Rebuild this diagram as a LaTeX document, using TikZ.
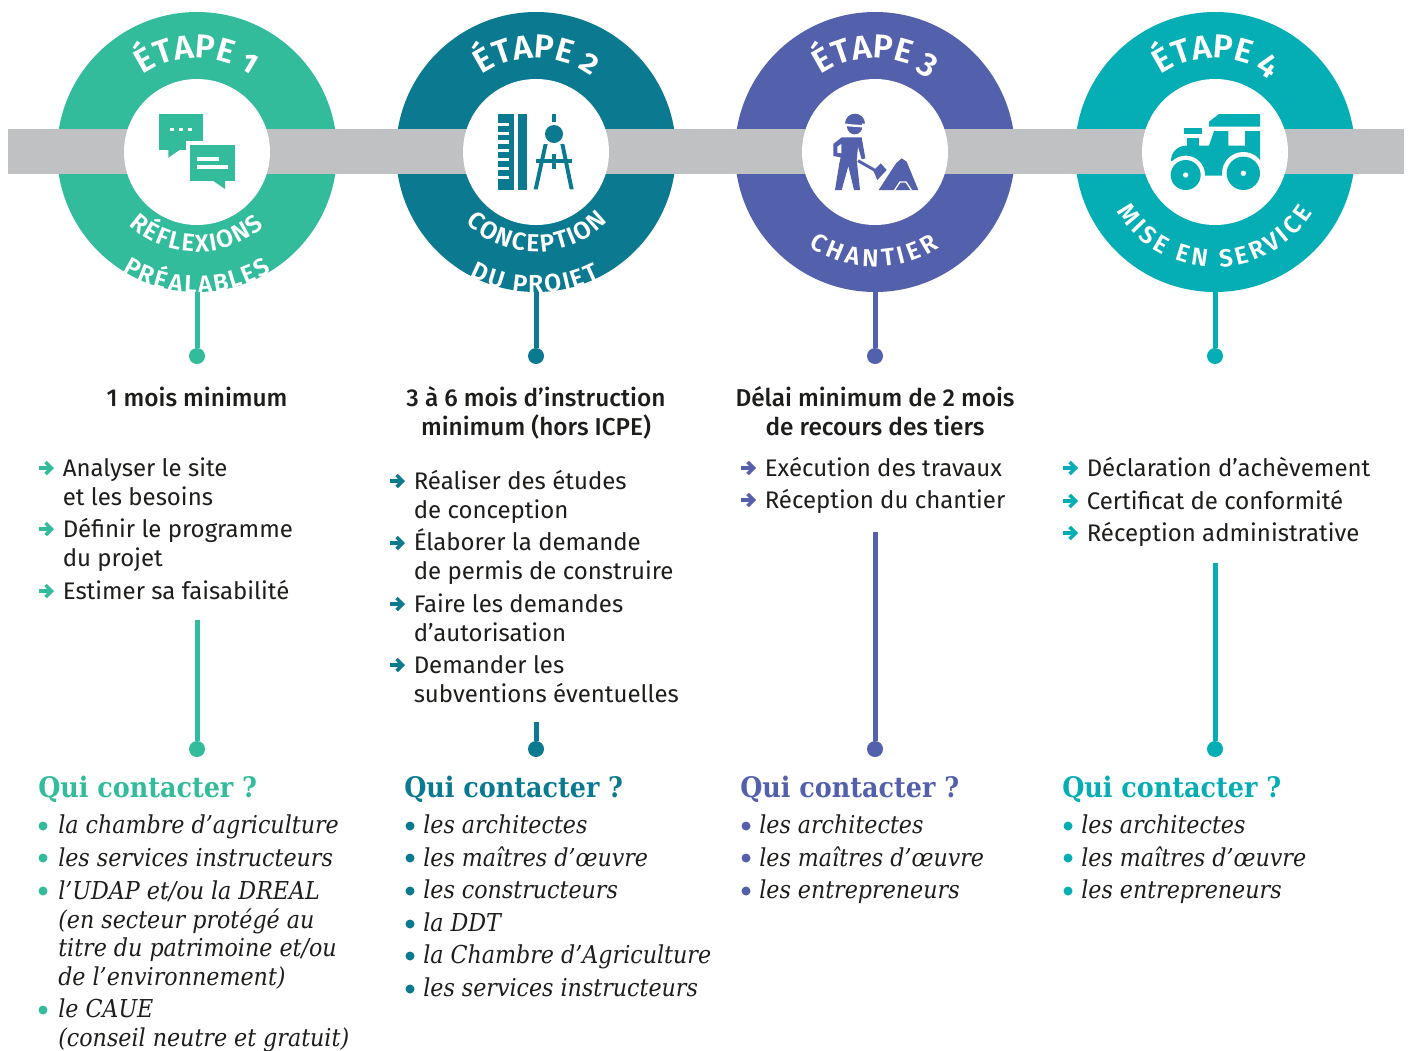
\documentclass[tikz,border=0pt]{standalone}
\usepackage{fontspec}
\setmainfont{Fira Sans}
\newfontfamily\ringfont[Numbers=OldStyle]{Fira Sans SemiBold}
\newfontfamily\delayfont{Fira Sans Medium}
\newfontfamily\contactfont{DejaVu Serif Condensed}
\usetikzlibrary{arrows.meta}
\usetikzlibrary{decorations.text}
\definecolor{stepa}{HTML}{32BC9B}
\definecolor{stepb}{HTML}{0B7A91}
\definecolor{stepc}{HTML}{5360AB}
\definecolor{stepd}{HTML}{05ADB4}
\definecolor{bandgrey}{HTML}{C0C1C3}
\definecolor{inkdark}{HTML}{1D1D1B}
\newcommand{\titlefont}{\ringfont\fontsize{25}{25}\selectfont\color{white}}
\newcommand{\ringlabel}{\ringfont\fontsize{18.5}{20}\selectfont\color{white}}
\tikzset{%
	ring/.style={circle,inner sep=0pt,minimum size=210pt},
	hole/.style={circle,inner sep=0pt,fill=white,minimum size=109.5pt}
}
\tikzset{%
	stem/.style={line width=3.75pt},
	end_dot/.style={circle,inner sep=0pt,minimum size=12pt}
}
\tikzset{%
	delay/.style={anchor=base,align=center,inner sep=0pt,text=inkdark,font=\delayfont\fontsize{18.3}{21.75}\selectfont},
	task/.style={anchor=base west,align=left,inner sep=0pt,text=inkdark,font=\fontsize{18}{21.75}\selectfont},
	list_arrow/.style={line width=2.6pt,-{Straight Barb[length=4.5pt,width=9pt]}},
	who_title/.style={anchor=base west,inner sep=0pt,font=\contactfont\bfseries\fontsize{21.2}{24}\selectfont},
	who/.style={anchor=base west,align=left,inner sep=0pt,text=inkdark,font=\contactfont\itshape\fontsize{18.5}{21.4}\selectfont}
}

\begin{document}
\begin{tikzpicture}[x=0.75pt,y=0.75pt]
		\useasboundingbox (0,0) rectangle (1408,-1050);

		%Rings
		\node [ring,fill=stepa] (c1) at (197,-152) {};
		\node [ring,fill=stepb] (c2) at (536,-152) {};
		\node [ring,fill=stepc] (c3) at (875,-152) {};
		\node [ring,fill=stepd] (c4) at (1215,-152) {};

		%Grey band behind the holes
		\fill [bandgrey] (8,-129) rectangle (1404,-174);
		\node [hole] (h1) at (c1) {};
		\node [hole] (h2) at (c2) {};
		\node [hole] (h3) at (c3) {};
		\node [hole] (h4) at (c4) {};

		%Ring titles
		\path [decorate,decoration={text along path,text align={fit to path},text={|\titlefont|ÉTAPE 1}}] ([shift={(c1)}]125:94) arc (125:55:94);
		\path [decorate,decoration={text along path,text align={fit to path},text={|\titlefont|ÉTAPE 2}}] ([shift={(c2)}]125:94) arc (125:55:94);
		\path [decorate,decoration={text along path,text align={fit to path},text={|\titlefont|ÉTAPE 3}}] ([shift={(c3)}]125:94) arc (125:55:94);
		\path [decorate,decoration={text along path,text align={fit to path},text={|\titlefont|ÉTAPE 4}}] ([shift={(c4)}]125:94) arc (125:55:94);

		%Ring labels
		\path [decorate,decoration={text along path,text align={fit to path},text={|\ringlabel|RÉFLEXIONS}}] ([shift={(c1)}]227:100) arc (227:312:100);
		\path [decorate,decoration={text along path,text align={fit to path},text={|\ringlabel|PRÉALABLES}}] ([shift={(c1)}]238:141) arc (238:302:141);
		\path [decorate,decoration={text along path,text align={fit to path},text={|\ringlabel|CONCEPTION}}] ([shift={(c2)}]225:100) arc (225:316:100);
		\path [decorate,decoration={text along path,text align={fit to path},text={|\ringlabel|DU PROJET}}] ([shift={(c2)}]242:141) arc (242:297:141);
		\path [decorate,decoration={text along path,text align={fit to path},text={|\ringlabel|CHANTIER}}] ([shift={(c3)}]235:115) arc (235:304:115);
		\path [decorate,decoration={text along path,text align={fit to path},text={|\ringlabel|MISE EN SERVICE}}] ([shift={(c4)}]211:115) arc (211:328:115);

		%First icon
		\begin{scope}[shift={(40,0)},x=0.25pt,y=0.25pt,color=stepa]
			\fill (357,-342) rectangle (490,-449);
			\fill (385,-449) -- (385,-473) -- (420,-449) -- cycle;
			\fill [white] (437,-422) rectangle (500,-460);
			\fill (450,-435) rectangle (584,-543);
			\fill (520,-543) -- (555,-567) -- (555,-543) -- cycle;
			\fill [white] (390,-383) rectangle (402,-394);
			\fill [white] (418,-383) rectangle (430,-394);
			\fill [white] (445,-383) rectangle (457,-394);
			\fill [white] (470,-470) rectangle (537,-482);
			\fill [white] (470,-495) rectangle (563,-508);
		\end{scope}

		%Second icon
		\begin{scope}[shift={(380,0)},x=0.25pt,y=0.25pt,color=stepb]
			\fill (355,-342) rectangle (402,-570);
			\fill (415,-342) rectangle (441,-570);
			\fill [white] (355,-368) rectangle (388,-378);
			\fill [white] (355,-395) rectangle (388,-405);
			\fill [white] (355,-421) rectangle (388,-431);
			\fill [white] (355,-447) rectangle (388,-457);
			\fill [white] (355,-474) rectangle (388,-484);
			\fill [white] (355,-500) rectangle (388,-510);
			\fill [white] (355,-527) rectangle (388,-537);
			\fill (516,-342) rectangle (528,-365);
			\fill (522,-402) circle [radius=27];
			\fill (491,-432) -- (503,-432) -- (473,-568) -- (461,-568) -- cycle;
			\fill (541,-432) -- (553,-432) -- (581,-568) -- (569,-568) -- cycle;
			\fill (468,-476) rectangle (576,-489);
			\fill (516,-462) rectangle (528,-508);
		\end{scope}

		%Third icon
		\begin{scope}[shift={(720,0)},x=0.25pt,y=0.25pt,color=stepc]
			\fill (404,-380) circle [radius=23];
			\fill [white] (368,-371) -- (438,-376) -- (438,-383) -- (368,-378) -- cycle;
			\fill (375,-371) arc (180:0:30) -- cycle;
			\fill (365,-412) -- (425,-412) -- (436,-475) -- (425,-478) -- (414,-440) -- (410,-480) -- (420,-570) -- (402,-570) -- (385,-498) -- (365,-570) -- (345,-570) -- (358,-490) -- (362,-472) -- (340,-468) -- (340,-432) -- cycle;
			\fill [white] (352,-440) -- (364,-432) -- (364,-460) -- (352,-458) -- cycle;
			\draw [line width=2.2pt] (414,-482) -- (470,-514);
			\fill (460,-512) -- (482,-490) -- (500,-510) -- (472,-540) -- cycle;
			\fill (476,-570) -- (528,-490) -- (545,-475) -- (560,-485) -- (595,-570) -- cycle;
			\draw [white,line width=1pt] (524,-570) -- (540,-546) -- (558,-546) -- (574,-570);
		\end{scope}

		%Fourth icon
		\begin{scope}[shift={(1060,0)},x=0.25pt,y=0.25pt,color=stepd]
			\fill (447,-380) -- (447,-365) -- (477,-342) -- (600,-342) -- (600,-380) -- cycle;
			\fill (372,-384) rectangle (426,-402);
			\fill (380,-413) rectangle (417,-440);
			\fill (333,-482) arc (180:90:45) -- (447,-437) -- (462,-393) -- (505,-393) -- (505,-437) -- (555,-437) -- (555,-393) -- (600,-393) -- (600,-480) -- (560,-527) -- (420,-527) -- cycle;
			\fill [white] (377,-525) circle [radius=58];
			\fill [white] (550,-520) circle [radius=64];
			\fill (377,-525) circle [radius=45];
			\fill (550,-520) circle [radius=50];
			\fill [white] (377,-525) circle [radius=8];
			\fill [white] (550,-520) circle [radius=8];
		\end{scope}

		%Stems below the rings
		\node [end_dot,fill=stepa] (d1) at (197,-356) {};
		\node [end_dot,fill=stepb] (d2) at (536,-356) {};
		\node [end_dot,fill=stepc] (d3) at (875,-356) {};
		\node [end_dot,fill=stepd] (d4) at (1215,-356) {};
		\draw [stem,stepa] (c1.south) -- (d1);
		\draw [stem,stepb] (c2.south) -- (d2);
		\draw [stem,stepc] (c3.south) -- (d3);
		\draw [stem,stepd] (c4.south) -- (d4);

		%Stems above the contacts
		\coordinate (t1) at (197,-620);
		\coordinate (t2) at (536,-722);
		\coordinate (t3) at (875,-532);
		\coordinate (t4) at (1215,-563);
		\node [end_dot,fill=stepa] (e1) at (197,-749) {};
		\node [end_dot,fill=stepb] (e2) at (536,-749) {};
		\node [end_dot,fill=stepc] (e3) at (875,-749) {};
		\node [end_dot,fill=stepd] (e4) at (1215,-749) {};
		\draw [stem,stepa] (t1) -- (e1);
		\draw [stem,stepb] (t2) -- (e2);
		\draw [stem,stepc] (t3) -- (e3);
		\draw [stem,stepd] (t4) -- (e4);

		%Delays
		\node [delay] (delay1) at (197,-406) {1 mois minimum};
		\node [delay] (delay2) at (536,-435) {3 à 6 mois d’instruction\\minimum (hors ICPE)};
		\node [delay] (delay3) at (875,-435) {Délai minimum de 2 mois\\de recours des tiers};

		%First column tasks
		\node [task] (task11) at (62.5,-505) {Analyser le site\\et les besoins};
		\node [task] (task12) at (62.5,-566) {Définir le programme\\du projet};
		\node [task] (task13) at (62.5,-599) {Estimer sa faisabilité};
		\draw [list_arrow,stepa] (39,-468) -- (54,-468);
		\draw [list_arrow,stepa] (39,-529) -- (54,-529);
		\draw [list_arrow,stepa] (39,-591) -- (54,-591);

		%Second column tasks
		\node [task] (task21) at (413.5,-518) {Réaliser des études\\de conception};
		\node [task] (task22) at (413.5,-579.5) {Élaborer la demande\\de permis de construire};
		\node [task] (task23) at (413.5,-641) {Faire les demandes\\d’autorisation};
		\node [task] (task24) at (413.5,-702) {Demander les\\subventions éventuelles};
		\draw [list_arrow,stepb] (390,-481) -- (405,-481);
		\draw [list_arrow,stepb] (390,-543) -- (405,-543);
		\draw [list_arrow,stepb] (390,-604) -- (405,-604);
		\draw [list_arrow,stepb] (390,-665) -- (405,-665);

		%Third column tasks
		\node [task] (task31) at (764.5,-476) {Exécution des travaux};
		\node [task] (task32) at (764.5,-508) {Réception du chantier};
		\draw [list_arrow,stepc] (741,-468) -- (756,-468);
		\draw [list_arrow,stepc] (741,-500) -- (756,-500);

		%Fourth column tasks
		\node [task] (task41) at (1086.5,-476) {Déclaration d’achèvement};
		\node [task] (task42) at (1086.5,-509) {Certificat de conformité};
		\node [task] (task43) at (1086.5,-541) {Réception administrative};
		\draw [list_arrow,stepd] (1063,-468) -- (1078,-468);
		\draw [list_arrow,stepd] (1063,-501) -- (1078,-501);
		\draw [list_arrow,stepd] (1063,-533) -- (1078,-533);

		%First column contacts
		\node [who_title,text=stepa] (title1) at (38,-797) {Qui contacter ?};
		\node [who] (who11) at (58,-833.5) {la chambre d’agriculture};
		\node [who] (who12) at (58,-866) {les services instructeurs};
		\node [who] (who13) at (58,-985.5) {l’UDAP et/ou la DREAL\\(en secteur protégé au\\titre du patrimoine et/ou\\de l’environnement)};
		\node [who] (who14) at (58,-1046.5) {le CAUE\\(conseil neutre et gratuit)};
		\fill [stepa] (43,-826) circle [radius=4.5];
		\fill [stepa] (43,-858) circle [radius=4.5];
		\fill [stepa] (43,-891) circle [radius=4.5];
		\fill [stepa] (43,-1010) circle [radius=4.5];

		%Second column contacts
		\node [who_title,text=stepb] (title2) at (404,-797) {Qui contacter ?};
		\node [who] (who21) at (423,-833.5) {les architectes};
		\node [who] (who22) at (423,-866) {les maîtres d’œuvre};
		\node [who] (who23) at (423,-898.5) {les constructeurs};
		\node [who] (who24) at (423,-931.5) {la DDT};
		\node [who] (who25) at (423,-963.5) {la Chambre d’Agriculture};
		\node [who] (who26) at (423,-996.5) {les services instructeurs};
		\fill [stepb] (410,-826) circle [radius=4.5];
		\fill [stepb] (410,-858) circle [radius=4.5];
		\fill [stepb] (410,-891) circle [radius=4.5];
		\fill [stepb] (410,-924) circle [radius=4.5];
		\fill [stepb] (410,-956) circle [radius=4.5];
		\fill [stepb] (410,-989) circle [radius=4.5];

		%Third column contacts
		\node [who_title,text=stepc] (title3) at (740,-797) {Qui contacter ?};
		\node [who] (who31) at (759,-833.5) {les architectes};
		\node [who] (who32) at (759,-866) {les maîtres d’œuvre};
		\node [who] (who33) at (759,-898.5) {les entrepreneurs};
		\fill [stepc] (746,-826) circle [radius=4.5];
		\fill [stepc] (746,-858) circle [radius=4.5];
		\fill [stepc] (746,-891) circle [radius=4.5];

		%Fourth column contacts
		\node [who_title,text=stepd] (title4) at (1062,-797) {Qui contacter ?};
		\node [who] (who41) at (1081,-833.5) {les architectes};
		\node [who] (who42) at (1081,-866) {les maîtres d’œuvre};
		\node [who] (who43) at (1081,-898.5) {les entrepreneurs};
		\fill [stepd] (1068,-826) circle [radius=4.5];
		\fill [stepd] (1068,-858) circle [radius=4.5];
		\fill [stepd] (1068,-891) circle [radius=4.5];

	\end{tikzpicture}
\end{document}
